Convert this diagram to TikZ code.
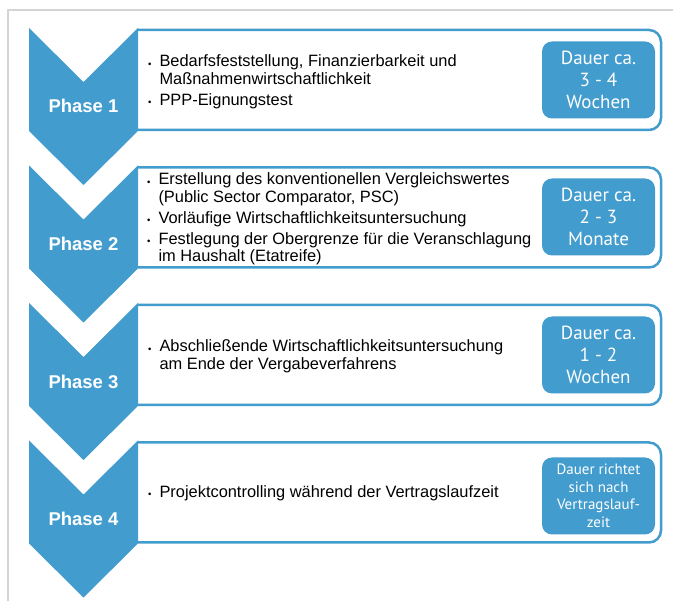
\documentclass[tikz,border=0pt]{standalone}
\usepackage{fontspec}
\setmainfont{Liberation Sans}
\newfontfamily\dauerfont{PT Sans}
\definecolor{phaseblue}{RGB}{66,156,206}
\definecolor{framegray}{RGB}{212,212,212}
\newcommand{\blt}{{\fontsize{9.5}{9.5}\selectfont\raisebox{-0.3pt}{\textbullet}}}

\begin{document}
\begin{tikzpicture}[x=1pt, y=-1pt,
  chevron/.style={fill=phaseblue},
  phasebox/.style={draw=phaseblue, line width=2.5pt, rounded corners=12pt},
  phase/.style={text=white, font=\fontsize{18.5}{18.5}\selectfont\bfseries},
  body/.style={anchor=west, inner sep=0pt, align=left, font=\fontsize{16.4}{17.5}\selectfont},
  dauer/.style={fill=phaseblue, rounded corners=10pt, text=white, align=center,
    minimum width=113pt, minimum height=77pt, inner sep=2pt,
    font=\dauerfont\fontsize{19}{22}\selectfont}]
\useasboundingbox (0,0) rectangle (673,601);

% frame
\draw[framegray, line width=2pt] (673,10) -- (7.5,10) -- (7.5,601);

% Phase 1
\draw[phasebox] (138,30) -- (661,30) -- (661,130) -- (138,130);
\fill[chevron] (29,28) -- (83.5,82) -- (138,28) -- (138,131) -- (83.5,185) -- (29,131) -- cycle;
\node[phase] (phase1) at (83.5,106) {Phase 1};
\node[body] (text1) at (148,82.5) {\begin{tabular}{@{}l@{\hspace{8pt}}l@{}}
  \blt & Bedarfsfeststellung, Finanzierbarkeit und\\
       & Maßnahmenwirtschaftlichkeit\\[3.5pt]
  \blt & PPP-Eignungstest
  \end{tabular}};
\node[dauer] (dauer1) at (598.5,80) {Dauer ca.\\3 - 4\\Wochen};

% Phase 2
\draw[phasebox] (138,167.5) -- (661,167.5) -- (661,267.5) -- (138,267.5);
\fill[chevron] (29,165.5) -- (83.5,219.5) -- (138,165.5) -- (138,268.5) -- (83.5,322.5) -- (29,268.5) -- cycle;
\node[phase] (phase2) at (83.5,244) {Phase 2};
\node[body] (text2) at (147,220) {\begin{tabular}{@{}l@{\hspace{8pt}}l@{}}
  \blt & Erstellung des konventionellen Vergleichswertes\\
       & (Public Sector Comparator, PSC)\\[3.5pt]
  \blt & Vorläufige Wirtschaftlichkeitsuntersuchung\\[3.5pt]
  \blt & Festlegung der Obergrenze für die Veranschlagung\\
       & im Haushalt (Etatreife)
  \end{tabular}};
\node[dauer] (dauer2) at (598.5,217) {Dauer ca.\\2 - 3\\Monate};

% Phase 3
\draw[phasebox] (138,305) -- (661,305) -- (661,405) -- (138,405);
\fill[chevron] (29,303) -- (83.5,357) -- (138,303) -- (138,406) -- (83.5,460) -- (29,406) -- cycle;
\node[phase] (phase3) at (83.5,382) {Phase 3};
\node[body] (text3) at (148,357) {\begin{tabular}{@{}l@{\hspace{8pt}}l@{}}
  \blt & Abschließende Wirtschaftlichkeitsuntersuchung\\
       & am Ende der Vergabeverfahrens
  \end{tabular}};
\node[dauer] (dauer3) at (598.5,355) {Dauer ca.\\1 - 2\\Wochen};

% Phase 4
\draw[phasebox] (138,442.5) -- (661,442.5) -- (661,542.5) -- (138,542.5);
\fill[chevron] (29,440.5) -- (83.5,494.5) -- (138,440.5) -- (138,543.5) -- (83.5,597.5) -- (29,543.5) -- cycle;
\node[phase] (phase4) at (83.5,519) {Phase 4};
\node[body] (text4) at (148,494) {\begin{tabular}{@{}l@{\hspace{8pt}}l@{}}
  \blt & Projektcontrolling während der Vertragslaufzeit
  \end{tabular}};
\node[dauer, font=\dauerfont\fontsize{15}{17.5}\selectfont] (dauer4) at (598.5,496)
  {Dauer richtet\\sich nach\\Vertragslauf-\\zeit};

\end{tikzpicture}
\end{document}
